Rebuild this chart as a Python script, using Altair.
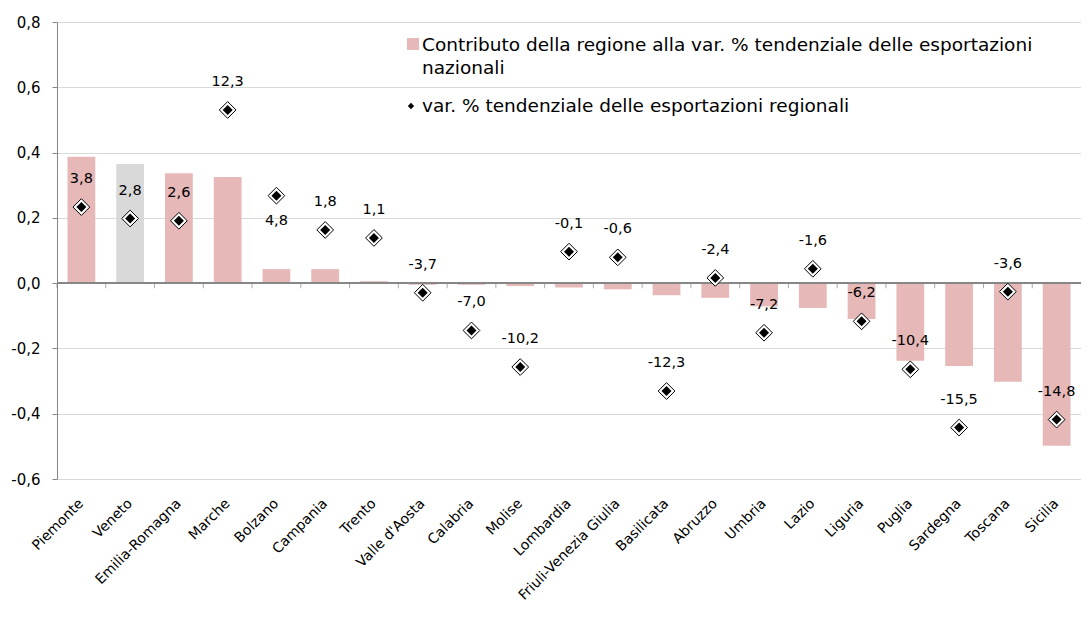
import altair as alt
import pandas as pd

regions = ["Piemonte", "Veneto", "Emilia-Romagna", "Marche", "Bolzano", "Campania",
           "Trento", "Valle d'Aosta", "Calabria", "Molise", "Lombardia",
           "Friuli-Venezia Giulia", "Basilicata", "Abruzzo", "Umbria", "Lazio",
           "Liguria", "Puglia", "Sardegna", "Toscana", "Sicilia"]
contrib = [0.387, 0.365, 0.337, 0.325, 0.043, 0.043, 0.006, -0.005, -0.005, -0.009,
           -0.013, -0.019, -0.037, -0.045, -0.071, -0.076, -0.110, -0.238, -0.254,
           -0.302, -0.498]
growth = [3.8, 2.8, 2.6, 12.3, 4.8, 1.8, 1.1, -3.7, -7.0, -10.2, -0.1, -0.6, -12.3,
          -2.4, -7.2, -1.6, -6.2, -10.4, -15.5, -3.6, -14.8]
grey_regions = ["Veneto"]
labels_below = ["Bolzano"]
y_ticks = [-0.6, -0.4, -0.2, 0.0, 0.2, 0.4, 0.6, 0.8]
legend_bar = ["Contributo della regione alla var. % tendenziale delle esportazioni", "nazionali"]
legend_point = "var. % tendenziale delle esportazioni regionali"

FONT = "DejaVu Sans"
PINK = "#e6b8b7"
GREY = "#d9d9d9"
AXIS_GREY = "#868686"

PLOT_W = 1024
P_INNER = 0.43
STEP = PLOT_W / len(regions)

df = pd.DataFrame({"region": regions, "contrib": contrib, "growth": growth})
df["zero"] = 0.0

x_scale = alt.Scale(paddingInner=P_INNER, paddingOuter=P_INNER / 2)
x_axis = alt.Axis(title=None, labelAngle=-45, labelAlign="right", labelBaseline="middle",
                  labelPadding=22, labelOffset=0, labelFontSize=14, labelFont=FONT,
                  labelColor="black", domain=False, ticks=False, grid=False,
                  labelOverlap=False, labelLimit=300)


def xenc(**kw):
    return alt.X("region:N", sort=regions, scale=x_scale, axis=x_axis, **kw)


prim_scale = alt.Scale(domain=[-0.6, 0.8], nice=False, zero=False)
sec_scale = alt.Scale(domain=[-20, 20], nice=False, zero=False)
minus_fix = "\u2212"
y_axis = alt.Axis(title=None, values=y_ticks, grid=True, gridColor="#d9d9d9", gridWidth=1,
                  domainColor=AXIS_GREY, tickColor=AXIS_GREY, tickSize=5, labelPadding=12,
                  labelFontSize=15, labelFont=FONT, labelColor="black",
                  labelExpr="replace(replace(format(datum.value, '.1f'), '.', ','), '" + minus_fix + "', '-')")

base = alt.Chart(df)

bars = base.mark_bar().encode(
    x=xenc(),
    y=alt.Y("contrib:Q", scale=prim_scale, axis=y_axis),
    color=alt.condition(alt.FieldOneOfPredicate(field="region", oneOf=grey_regions),
                        alt.value(GREY), alt.value(PINK)),
)

zero_rule = base.mark_rule(color=AXIS_GREY, strokeWidth=1).encode(
    y=alt.Y("zero:Q", scale=prim_scale, axis=None)
)

ticks = base.mark_tick(orient="vertical", size=5, thickness=1, color=AXIS_GREY,
                       xOffset=-STEP * P_INNER / 2, yOffset=2.5).encode(
    x=xenc(bandPosition=0),
    y=alt.Y("zero:Q", scale=prim_scale, axis=None),
)

outer = base.mark_point(shape="diamond", filled=True, fill="white", stroke="black",
                        strokeWidth=1, size=280, opacity=1).encode(
    x=xenc(), y=alt.Y("growth:Q", scale=sec_scale, axis=None)
)
inner = base.mark_point(shape="diamond", filled=True, color="black", size=100,
                        opacity=1).encode(
    x=xenc(), y=alt.Y("growth:Q", scale=sec_scale, axis=None)
)

lab_expr = "replace(replace(format(datum.growth, '.1f'), '.', ','), '" + minus_fix + "', '-')"
labels_up = base.transform_filter(
    {"not": alt.FieldOneOfPredicate(field="region", oneOf=labels_below)}
).transform_calculate(lab=lab_expr).mark_text(
    dy=-28, fontSize=14.5, font=FONT, color="black"
).encode(x=xenc(), y=alt.Y("growth:Q", scale=sec_scale, axis=None), text="lab:N")

labels_down = base.transform_filter(
    alt.FieldOneOfPredicate(field="region", oneOf=labels_below)
).transform_calculate(lab=lab_expr).mark_text(
    dy=25, fontSize=14.5, font=FONT, color="black"
).encode(x=xenc(), y=alt.Y("growth:Q", scale=sec_scale, axis=None), text="lab:N")

# legend
leg_df = pd.DataFrame({"l1": [legend_bar[0]], "l2": [legend_bar[1]], "p": [legend_point]})
leg_base = alt.Chart(leg_df)
leg_sq = leg_base.mark_square(color=PINK, size=144, opacity=1).encode(
    x=alt.value(356), y=alt.value(22))
leg_t1 = leg_base.mark_text(align="left", baseline="middle", fontSize=18.5, font=FONT,
                            color="black").encode(x=alt.value(365), y=alt.value(23), text="l1:N")
leg_t2 = leg_base.mark_text(align="left", baseline="middle", fontSize=18.5, font=FONT,
                            color="black").encode(x=alt.value(365), y=alt.value(46), text="l2:N")
leg_dm = leg_base.mark_point(shape="diamond", filled=True, color="black", size=40,
                             opacity=1).encode(x=alt.value(354), y=alt.value(84))
leg_t3 = leg_base.mark_text(align="left", baseline="middle", fontSize=18.5, font=FONT,
                            color="black").encode(x=alt.value(365), y=alt.value(84), text="p:N")

chart = alt.layer(
    bars, zero_rule, ticks, outer, inner, labels_up, labels_down,
    leg_sq, leg_t1, leg_t2, leg_dm, leg_t3
).resolve_scale(y="independent").properties(
    width=PLOT_W, height=457,
    autosize=alt.AutoSizeParams(type="none"),
    padding={"left": 49, "top": 14, "right": 0, "bottom": 129},
    background="white",
).configure_view(stroke=None)

chart.save("out.html", embed_options={"renderer": "svg", "actions": False})
